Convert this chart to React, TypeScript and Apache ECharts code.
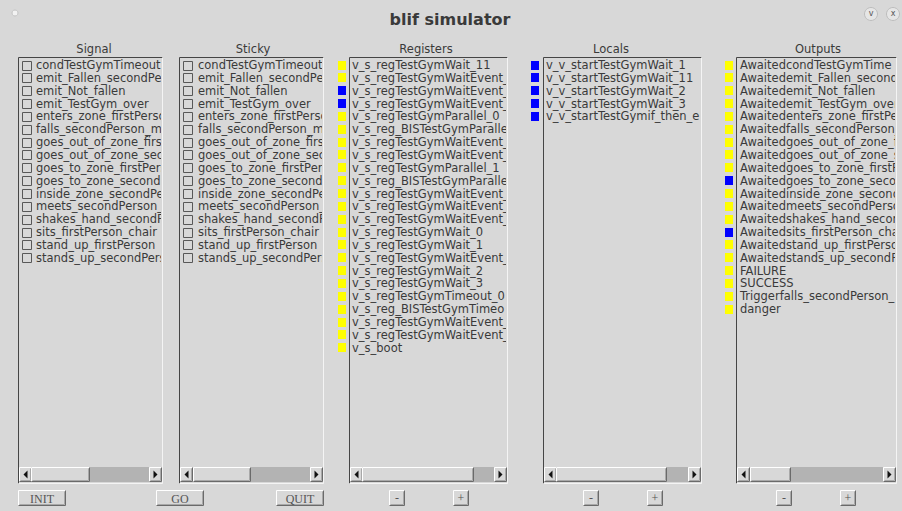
import React, { useEffect, useRef } from "react";
import * as echarts from "echarts";

const WINDOW_TITLE = "blif simulator";
const panelTitles = ["Signal", "Sticky", "Registers", "Locals", "Outputs"];

const signals = [
  "condTestGymTimeout",
  "emit_Fallen_secondPer",
  "emit_Not_fallen",
  "emit_TestGym_over",
  "enters_zone_firstPerso",
  "falls_secondPerson_m",
  "goes_out_of_zone_firs",
  "goes_out_of_zone_sec",
  "goes_to_zone_firstPers",
  "goes_to_zone_second",
  "inside_zone_secondPer",
  "meets_secondPerson_",
  "shakes_hand_secondPe",
  "sits_firstPerson_chair",
  "stand_up_firstPerson",
  "stands_up_secondPers",
];
const stickies = signals.slice();

const registers = [
  "v_s_regTestGymWait_11",
  "v_s_regTestGymWaitEvent_",
  "v_s_regTestGymWaitEvent_",
  "v_s_regTestGymWaitEvent_",
  "v_s_regTestGymParallel_0",
  "v_s_reg_BISTestGymParalle",
  "v_s_regTestGymWaitEvent_",
  "v_s_regTestGymWaitEvent_",
  "v_s_regTestGymParallel_1",
  "v_s_reg_BISTestGymParalle",
  "v_s_regTestGymWaitEvent_",
  "v_s_regTestGymWaitEvent_",
  "v_s_regTestGymWaitEvent_",
  "v_s_regTestGymWait_0",
  "v_s_regTestGymWait_1",
  "v_s_regTestGymWaitEvent_",
  "v_s_regTestGymWait_2",
  "v_s_regTestGymWait_3",
  "v_s_regTestGymTimeout_0",
  "v_s_reg_BISTestGymTimeo",
  "v_s_regTestGymWaitEvent_",
  "v_s_regTestGymWaitEvent_",
  "v_s_boot",
];
const registerStates = [0, 0, 1, 1, 0, 0, 0, 0, 0, 0, 0, 0, 0, 0, 0, 0, 0, 0, 0, 0, 0, 0, 0];

const locals = [
  "v_v_startTestGymWait_1",
  "v_v_startTestGymWait_11",
  "v_v_startTestGymWait_2",
  "v_v_startTestGymWait_3",
  "v_v_startTestGymif_then_el",
];
const localStates = [1, 1, 1, 1, 1];

const outputs = [
  "AwaitedcondTestGymTime",
  "Awaitedemit_Fallen_second",
  "Awaitedemit_Not_fallen",
  "Awaitedemit_TestGym_over",
  "Awaitedenters_zone_firstPe",
  "Awaitedfalls_secondPerson_",
  "Awaitedgoes_out_of_zone_f",
  "Awaitedgoes_out_of_zone_s",
  "Awaitedgoes_to_zone_firstP",
  "Awaitedgoes_to_zone_secon",
  "Awaitedinside_zone_second",
  "Awaitedmeets_secondPerso",
  "Awaitedshakes_hand_secon",
  "Awaitedsits_firstPerson_cha",
  "Awaitedstand_up_firstPerso",
  "Awaitedstands_up_secondP",
  "FAILURE",
  "SUCCESS",
  "Triggerfalls_secondPerson_",
  "danger",
];
const outputStates = [0, 0, 0, 0, 0, 0, 0, 0, 0, 1, 0, 0, 0, 1, 0, 0, 0, 0, 0, 0];

const mainButtons = ["INIT", "GO", "QUIT"];
const zoomButtons = ["-", "+"];

// ---- layout (pixels) ----
const BG = "#d8d8d8";
const TXT = "#3a3a3a";
const FONT = "DejaVu Sans";
const BOX_TOP = 57.5;
const BOX_BOTTOM = 483.5;
const SB_TOP = 467;
const SB_H = 15;
const ROW0 = 65;
const ROW_H = 12.85;
const FS = 11.5;

type Panel = {
  title: string;
  titleX: number;
  left: number;
  right: number;
  thumb: [number, number];
  kind: "check" | "state";
  items: string[];
  states?: number[];
  markX: number;
  textX: number;
  coverW: number;
  buttons?: [number, number];
};

const panels: Panel[] = [
  { title: panelTitles[0], titleX: 94, left: 18, right: 162, thumb: [31, 90], kind: "check", items: signals, markX: 22, textX: 36, coverW: 14 },
  { title: panelTitles[1], titleX: 253, left: 179, right: 323, thumb: [193, 251], kind: "check", items: stickies, markX: 183, textX: 198, coverW: 13 },
  { title: panelTitles[2], titleX: 426, left: 349, right: 507, thumb: [362, 474], kind: "state", items: registers, states: registerStates, markX: 338, textX: 352, coverW: 20, buttons: [389, 453] },
  { title: panelTitles[3], titleX: 611, left: 543, right: 701, thumb: [556, 667], kind: "state", items: locals, states: localStates, markX: 531, textX: 546, coverW: 22, buttons: [583, 647] },
  { title: panelTitles[4], titleX: 818, left: 736, right: 896, thumb: [750, 791], kind: "state", items: outputs, states: outputStates, markX: 725, textX: 740, coverW: 8, buttons: [776, 840] },
];

function ln(x1: number, y1: number, x2: number, y2: number, stroke: string, z = 5) {
  return { type: "line", silent: true, z, shape: { x1, y1, x2, y2 }, style: { stroke, lineWidth: 1 } };
}

function raised(x: number, y: number, w: number, h: number, z = 6, fill = BG) {
  const r = x + w - 0.5;
  const b = y + h - 0.5;
  return [
    { type: "rect", silent: true, z, shape: { x, y, width: w, height: h }, style: { fill } },
    ln(x + 0.5, y + 0.5, r, y + 0.5, "#ffffff", z + 1),
    ln(x + 0.5, y + 0.5, x + 0.5, b, "#ffffff", z + 1),
    ln(x + 0.5, b, r, b, "#6a6a6a", z + 1),
    ln(r, y + 0.5, r, b, "#6a6a6a", z + 1),
    ln(x + 1.5, b - 1, r - 1, b - 1, "#a8a8a8", z + 1),
    ln(r - 1, y + 1.5, r - 1, b - 1, "#a8a8a8", z + 1),
  ];
}

function buildGraphic() {
  const els: any[] = [];

  // window decorations
  els.push({ type: "circle", silent: true, shape: { cx: 15, cy: 13, r: 3 }, style: { fill: "#f2f2f2", stroke: "#c4c4c4", lineWidth: 1 } });
  els.push({
    type: "text", silent: true, x: 450, y: 19,
    style: { text: WINDOW_TITLE, fontFamily: FONT, fontWeight: "bold", fontSize: 16, fill: "#3a3a3a", align: "center", verticalAlign: "middle" },
  });
  [[871, "v"], [893, "x"]].forEach(([cx, g]) => {
    els.push({ type: "circle", silent: true, shape: { cx, cy: 14, r: 6.5 }, style: { fill: "#e6e6e6", stroke: "#bdbdbd", lineWidth: 1 } });
    els.push({ type: "text", silent: true, x: cx, y: 13.5, style: { text: g, fontFamily: FONT, fontSize: 8, fill: "#555", align: "center", verticalAlign: "middle" } });
  });

  panels.forEach((p) => {
    // title
    els.push({
      type: "text", silent: true, x: p.titleX, y: 49,
      style: { text: p.title, fontFamily: FONT, fontSize: FS, fill: TXT, align: "center", verticalAlign: "middle" },
    });
    // rows
    p.items.forEach((name, i) => {
      const cy = ROW0 + i * ROW_H;
      if (p.kind === "check") {
        els.push({
          type: "rect", silent: true, z: 3,
          shape: { x: p.markX + 0.5, y: Math.round(cy - 4.5) + 0.5, width: 9, height: 9 },
          style: { fill: "none", stroke: "#585858", lineWidth: 1 },
        });
      } else {
        const on = p.states![i] === 1;
        els.push({
          type: "rect", silent: true, z: 3,
          shape: { x: p.markX, y: Math.round(cy - 4.5), width: 8, height: 9 },
          style: { fill: on ? "#0000ff" : "#ffff00" },
        });
      }
      els.push({
        type: "text", silent: true, z: 1, x: p.textX, y: cy,
        style: { text: name, fontFamily: FONT, fontSize: FS, fill: TXT, align: "left", verticalAlign: "middle" },
      });
    });
    // cover to clip overflowing text
    els.push({
      type: "rect", silent: true, z: 2,
      shape: { x: p.right - 1, y: BOX_TOP + 1, width: p.coverW, height: SB_TOP - BOX_TOP - 1 },
      style: { fill: BG },
    });
    // sunken list border
    els.push(ln(p.left + 0.5, BOX_TOP, p.right + 0.5, BOX_TOP, "#454545"));
    els.push(ln(p.left + 0.5, BOX_TOP, p.left + 0.5, BOX_BOTTOM, "#454545"));
    els.push(ln(p.left + 0.5, BOX_BOTTOM, p.right + 0.5, BOX_BOTTOM, "#f4f4f4"));
    els.push(ln(p.right + 0.5, BOX_TOP, p.right + 0.5, BOX_BOTTOM, "#f4f4f4"));

    // scrollbar
    const sbL = p.left + 1;
    const sbR = p.right;
    els.push({ type: "rect", silent: true, z: 5, shape: { x: sbL, y: SB_TOP, width: sbR - sbL, height: SB_H }, style: { fill: "#b3b3b3" } });
    const aw = 13;
    els.push(...raised(sbL, SB_TOP, aw, SB_H));
    els.push(...raised(sbR - aw, SB_TOP, aw, SB_H));
    const my = SB_TOP + SB_H / 2;
    els.push({ type: "polygon", silent: true, z: 8, shape: { points: [[sbL + 4.5, my], [sbL + 8.5, my - 4], [sbL + 8.5, my + 4]] }, style: { fill: "#111" } });
    els.push({ type: "polygon", silent: true, z: 8, shape: { points: [[sbR - 4.5, my], [sbR - 8.5, my - 4], [sbR - 8.5, my + 4]] }, style: { fill: "#111" } });
    els.push(...raised(p.thumb[0], SB_TOP, p.thumb[1] - p.thumb[0], SB_H));

    // zoom buttons
    if (p.buttons) {
      p.buttons.forEach((bx, k) => {
        els.push(...raised(bx, 490, 16, 16));
        els.push({
          type: "text", silent: true, z: 9, x: bx + 8, y: 498,
          style: { text: zoomButtons[k], fontFamily: "Liberation Serif", fontSize: 12, fill: "#555", align: "center", verticalAlign: "middle" },
        });
      });
    }
  });

  // main buttons
  const mainX = [18, 156, 276];
  mainButtons.forEach((label, k) => {
    els.push(...raised(mainX[k], 490, 48, 16));
    els.push({
      type: "text", silent: true, z: 9, x: mainX[k] + 24, y: 498.5,
      style: { text: label, fontFamily: "Liberation Serif", fontSize: 12, fill: "#555", align: "center", verticalAlign: "middle" },
    });
  });

  return els;
}

export default function App() {
  const ref = useRef<HTMLDivElement>(null);
  useEffect(() => {
    document.body.style.margin = "0";
    if (!ref.current) return;
    const chart = echarts.init(ref.current, undefined, { renderer: "svg" });
    chart.setOption({
      animation: false,
      backgroundColor: BG,
      graphic: { elements: buildGraphic() },
    });
    return () => chart.dispose();
  }, []);
  return <div ref={ref} style={{ width: 902, height: 511 }} />;
}
